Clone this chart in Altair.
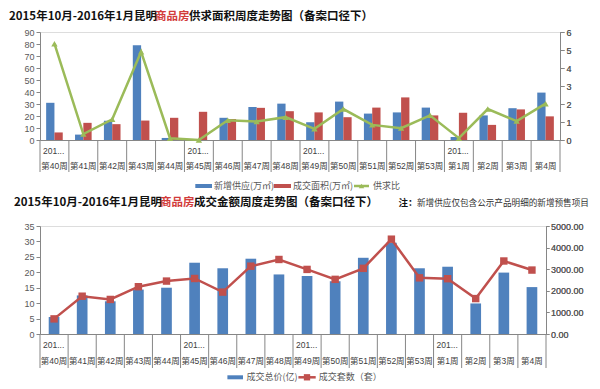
import altair as alt
import pandas as pd

# ---------------- data ----------------
weeks = ["第40周", "第41周", "第42周", "第43周", "第44周", "第45周", "第46周", "第47周",
         "第48周", "第49周", "第50周", "第51周", "第52周", "第53周", "第1周", "第2周",
         "第3周", "第4周"]
month_start_weeks = ["第40周", "第45周", "第49周", "第1周"]
month_labels = ["201...", "201...", "201...", "201..."]

# top chart (万㎡ and ratio)
supply = [31, 4.5, 16, 79, 1.7, 0, 18.5, 27.5, 30.3, 14.8, 32, 22, 23, 27, 2.5, 20.5, 26.5, 39.5]
deal_area = [6.3, 14.3, 13.2, 16.2, 18.5, 23.5, 17.5, 26.8, 24, 23, 19, 27, 35.5, 20.5, 22.7, 12.6, 25.5, 19.7]
ratio = [5.35, 0.33, 1.15, 4.9, 0.1, 0.0, 1.1, 1.03, 1.27, 0.62, 1.72, 0.84, 0.66, 1.37, 0.1, 1.72, 1.05, 2.02]
top_series = ["新增供应(万㎡)", "成交面积(万㎡)"]
ratio_name = "供求比"

# bottom chart
deal_amount = [5.5, 12.5, 10.6, 14.4, 15.0, 23.1, 21.3, 24.4, 19.3, 18.8, 17.1, 24.7, 29.6, 21.3, 21.8, 9.9, 19.9, 15.2]
deal_units = [700, 1750, 1600, 2190, 2450, 2570, 1940, 3140, 3450, 2990, 2530, 3040, 4390, 2600, 2560, 1640, 3380, 2960]
bottom_series = ["成交总价(亿)", "成交套数（套）"]

title_a = "2015年10月-2016年1月昆明"
title_red = "商品房"
title_top_rest = "供求面积周度走势图（备案口径下）"
title_bot_rest = "成交金额周度走势图（备案口径下）"
note_head = "注："
note_body = "新增供应仅包含公示产品明细的新增预售项目"

# ---------------- styles ----------------
BLUE = "#4f81bd"
RED = "#c0504d"
GREEN = "#9bbb59"
TITLE_RED = "#d23c3c"
GRAY = "#868686"
LAB = "#595959"
FONT = "Liberation Sans, Noto Sans CJK SC, sans-serif"
CJK = "Noto Sans CJK SC, sans-serif"

W1, H1 = 520, 108
W2, H2 = 506, 108

top_long = pd.DataFrame({
    "week": weeks * 2,
    "series": [top_series[0]] * len(weeks) + [top_series[1]] * len(weeks),
    "value": supply + deal_area,
})
ratio_df = pd.DataFrame({"week": weeks, "ratio": ratio})
bottom_df = pd.DataFrame({"week": weeks, "amount": deal_amount, "units": deal_units})
weeks_df = pd.DataFrame({"week": weeks})
last_df = pd.DataFrame({"week": weeks[-1:]})
month_df = pd.DataFrame({"week": month_start_weeks, "label": month_labels})
one = alt.Data(values=[{"k": 1}])


def xenc(pad, band_pos=None):
    kw = {}
    if band_pos is not None:
        kw["bandPosition"] = band_pos
    return alt.X("week:N", sort=weeks,
                 scale=alt.Scale(domain=weeks, paddingInner=0, paddingOuter=0),
                 axis=alt.Axis(title=None, ticks=False, labelAngle=0, labelPadding=pad,
                               labelBaseline="middle", labelFontSize=8.5, labelColor="#404040",
                               labelFont=FONT, domainColor=GRAY), **kw)


def yaxis(orient, values, fmt=None, minext=None, tick=4, pad=2):
    kw = {}
    if fmt:
        kw["format"] = fmt
    if minext is not None:
        kw["minExtent"] = minext
    return alt.Axis(orient=orient, values=values, title=None, grid=False, tickSize=tick,
                    labelPadding=pad, labelFontSize=9, labelColor=LAB, labelFont=FONT,
                    tickColor=GRAY, domainColor=GRAY, **kw)


def text_layer(txt, x, y, size=9, color=LAB, align="left", weight="normal", font=CJK):
    return alt.Chart(one).mark_text(align=align, baseline="middle", fontSize=size,
                                    fontWeight=weight, font=font, color=color).encode(
        x=alt.value(x), y=alt.value(y), text=alt.value(txt))


def rect_layer(x1, x2, y1, y2, color):
    return alt.Chart(one).mark_rect(color=color).encode(
        x=alt.value(x1), x2=alt.value(x2), y=alt.value(y1), y2=alt.value(y2))


def hline_layer(x1, x2, y, color):
    return alt.Chart(one).mark_rule(color=color, strokeWidth=2.5).encode(
        x=alt.value(x1), x2=alt.value(x2), y=alt.value(y))


def marker_layer(x, y, shape, size, color):
    return alt.Chart(one).mark_point(shape=shape, size=size, filled=True, opacity=1,
                                     color=color).encode(x=alt.value(x), y=alt.value(y))


def separators(H, pad, drop):
    r1 = alt.Chart(weeks_df).mark_rule(color=GRAY, strokeWidth=1).encode(
        x=xenc(pad, 0), y=alt.value(H), y2=alt.value(H + drop))
    r2 = alt.Chart(last_df).mark_rule(color=GRAY, strokeWidth=1).encode(
        x=xenc(pad, 1), y=alt.value(H), y2=alt.value(H + drop))
    ml = alt.Chart(month_df).mark_text(align="left", baseline="middle", dx=3, fontSize=8.5,
                                       color="#404040", font=FONT).encode(
        x=xenc(pad, 0), y=alt.value(H + 10.5), text="label:N")
    return [r1, r2, ml]


def title_layers(rest, x0, y):
    return [
        text_layer(title_a, x0, y, size=11.5, color="#111111", weight="bold"),
        text_layer(title_red, x0 + 146, y, size=11.5, color=TITLE_RED, weight="bold"),
        text_layer(rest, x0 + 180, y, size=11.5, color="#111111", weight="bold"),
    ]


# ---------------- top chart ----------------
TPAD = 25
bars_top = alt.Chart(top_long).mark_bar().encode(
    x=xenc(TPAD),
    xOffset=alt.XOffset("series:N", sort=top_series,
                        scale=alt.Scale(domain=top_series, paddingInner=0, paddingOuter=0.74)),
    y=alt.Y("value:Q", scale=alt.Scale(domain=[0, 90]),
            axis=yaxis("left", list(range(0, 91, 10)), minext=31)),
    color=alt.Color("series:N", scale=alt.Scale(domain=top_series, range=[BLUE, RED]), legend=None),
)
ratio_line = alt.Chart(ratio_df).mark_line(color=GREEN, strokeWidth=2.5).encode(
    x=xenc(TPAD),
    y=alt.Y("ratio:Q", scale=alt.Scale(domain=[0, 6]), axis=yaxis("right", list(range(0, 7)))),
)
ratio_pts = alt.Chart(ratio_df).mark_point(shape="triangle-up", size=40, filled=True, opacity=1,
                                           color=GREEN).encode(
    x=xenc(TPAD),
    y=alt.Y("ratio:Q", scale=alt.Scale(domain=[0, 6]), axis=yaxis("right", list(range(0, 7)))),
)
LY1 = 154
top_legend = [
    rect_layer(155.3, 172, LY1 - 2, LY1 + 2, BLUE),
    text_layer(top_series[0], 174, LY1),
    rect_layer(233.7, 251, LY1 - 2, LY1 + 2, RED),
    text_layer(top_series[1], 253, LY1),
    hline_layer(314, 329, LY1, GREEN),
    marker_layer(321.5, LY1, "triangle-up", 30, GREEN),
    text_layer(ratio_name, 333, LY1),
]
top = alt.layer(
    bars_top, ratio_line, ratio_pts,
    *separators(H1, TPAD, 32),
    *title_layers(title_top_rest, -31, -15),
    *top_legend,
).resolve_scale(y="independent").properties(width=W1, height=H1)

# ---------------- bottom chart ----------------
BPAD = 26.5
bars_bot = alt.Chart(bottom_df).mark_bar(color=BLUE, width={"band": 0.38}).encode(
    x=xenc(BPAD),
    y=alt.Y("amount:Q", scale=alt.Scale(domain=[0, 35]),
            axis=yaxis("left", list(range(0, 36, 5)), minext=26)),
)
units_line = alt.Chart(bottom_df).mark_line(color=RED, strokeWidth=2.5).encode(
    x=xenc(BPAD),
    y=alt.Y("units:Q", scale=alt.Scale(domain=[0, 5000]),
            axis=yaxis("right", list(range(0, 5001, 1000)), fmt=".2f", tick=3, pad=1.5)),
)
units_pts = alt.Chart(bottom_df).mark_point(shape="square", size=55, filled=True, opacity=1,
                                            color=RED).encode(
    x=xenc(BPAD),
    y=alt.Y("units:Q", scale=alt.Scale(domain=[0, 5000]),
            axis=yaxis("right", list(range(0, 5001, 1000)), fmt=".2f", tick=3, pad=1.5)),
)
LY2 = 151.3
bot_legend = [
    rect_layer(187.4, 203, LY2 - 2, LY2 + 2, BLUE),
    text_layer(bottom_series[0], 206.4, LY2),
    hline_layer(258.4, 275.7, LY2, RED),
    marker_layer(267, LY2, "square", 40, RED),
    text_layer(bottom_series[1], 278.7, LY2),
]
bottom = alt.layer(
    bars_bot, units_line, units_pts,
    *separators(H2, BPAD, 34),
    *title_layers(title_bot_rest, -26, -23.4),
    text_layer(note_head, 358.5, -23.4, size=9.5, color="#111111", weight="bold"),
    text_layer(note_body, 377, -23.4, size=8.6, color="#333333"),
    *bot_legend,
).resolve_scale(y="independent").properties(width=W2, height=H2)

chart = alt.vconcat(top, bottom, spacing=4).properties(
    padding={"left": 0, "top": 2, "right": 0, "bottom": 0}
).configure_view(stroke=None).configure(background="white")

chart.save("out.html", embed_options={"renderer": "svg", "actions": False})
